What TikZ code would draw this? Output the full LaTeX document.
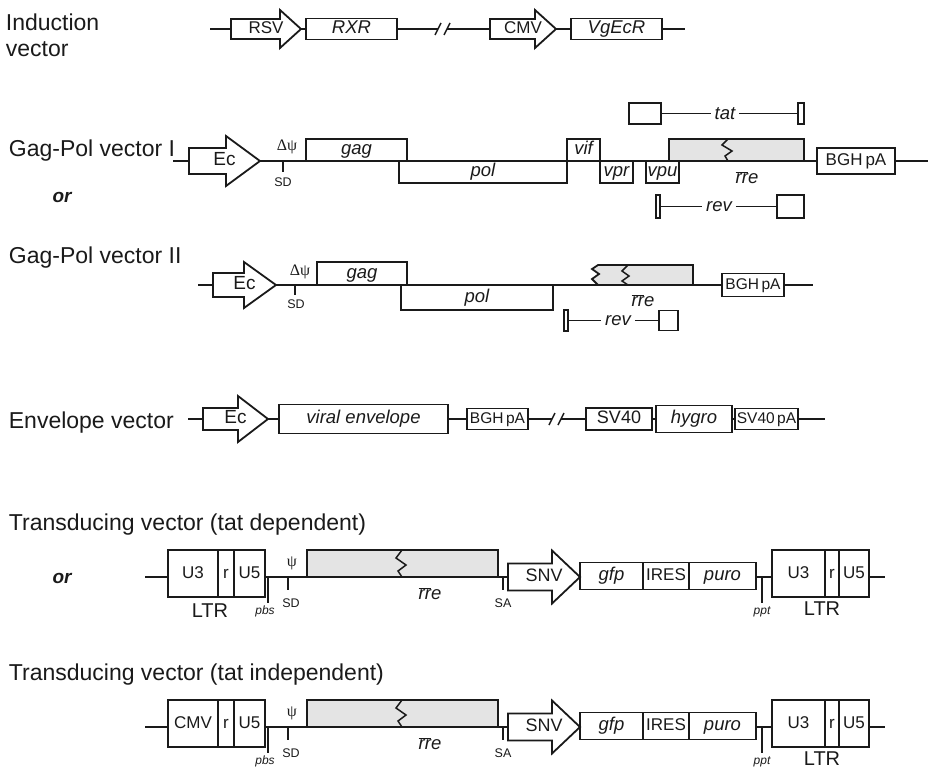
\documentclass[tikz,border=0pt]{standalone}
\usepackage{fontspec}
\setmainfont{Liberation Sans}
\newfontfamily\greekfont{Liberation Serif}
\usetikzlibrary{calc,positioning}
\definecolor{ink}{HTML}{1A1A1A}
\definecolor{shade}{HTML}{E4E4E4}

\begin{document}
\begin{tikzpicture}[x=1pt,y=-1pt,line width=1.8pt,color=ink,
    heading/.style={inner sep=0pt,anchor=base west,align=left,font=\fontsize{23}{26}\selectfont},
    elem/.style={draw,inner sep=0pt,outer sep=0pt,text height=12.5pt,text depth=3.5pt,font=\fontsize{17}{19}\selectfont},
    cds/.style={elem,font=\fontsize{18.5}{20}\selectfont\itshape},
    rrebox/.style={elem,fill=shade,anchor=south west},
    prom/.style={inner sep=0pt,outer sep=0pt,text height=12.5pt,text depth=3.5pt,font=\fontsize{18}{20}\selectfont},
    siglbl/.style={inner sep=0pt,font=\fontsize{12.5}{14}\selectfont},
    sigit/.style={inner sep=0pt,font=\fontsize{12}{14}\selectfont\itshape},
    orf/.style={inner sep=3pt,font=\fontsize{18.5}{20}\selectfont\itshape},
    greek/.style={inner sep=0pt,font=\greekfont\fontsize{16}{18}\selectfont},
    ltrlbl/.style={inner sep=0pt,font=\fontsize{20}{22}\selectfont},
    orword/.style={inner sep=0pt,font=\fontsize{19}{21}\selectfont\bfseries\itshape},
    small/.style={font=\fontsize{15.5}{17}\selectfont},
    stub/.style={line width=1.5pt},
    zig/.style={line width=1.5pt},
  ]
  \useasboundingbox (0,0) rectangle (936,773);

  \node[heading,anchor=north west] (tind) at (5,13) {Induction\\vector};
  \coordinate (s1) at (210,29); \coordinate (e1) at (685,29);
  \node[prom,minimum width=70,minimum height=20,font=\fontsize{17}{19}\selectfont] (rsv) at (266,29) {RSV};
  \node[cds,minimum width=91,minimum height=21] (rxr) at (351.5,29) {RXR};
  \coordinate (b1a) at (438,29); \coordinate (b1b) at (447,29);
  \node[prom,minimum width=66,minimum height=20,font=\fontsize{17}{19}\selectfont] (cmv) at (523,29) {CMV};
  \node[cds,minimum width=91,minimum height=21] (vgecr) at (616.5,29) {VgEcR};

  \node[heading] (tgp1) at (8,156) {Gag-Pol vector I};
  \node[orword] (or1) at (62,197) {or};
  \coordinate (s2) at (173,161); \coordinate (e2) at (928,161);
  \node[prom,minimum width=71,minimum height=26,font=\fontsize{19}{21}\selectfont] (ec1) at (224.5,161) {Ec};
  \node[greek] (dpsi1) at (287,147) {Δψ};
  \coordinate (sd1) at (283,161);
  \node[siglbl] (sdl1) at (283,182) {SD};
  \node[cds,anchor=south west,minimum width=101,minimum height=22] (gag1) at (306,161) {gag};
  \node[cds,anchor=north west,minimum width=168,minimum height=22] (pol1) at (399,161) {pol};
  \node[cds,anchor=south west,minimum width=33,minimum height=22] (vif1) at (567,161) {vif};
  \node[cds,anchor=north west,minimum width=33,minimum height=22] (vpr1) at (600,161) {vpr};
  \node[cds,anchor=north west,minimum width=33,minimum height=22] (vpu1) at (646,161) {vpu};
  \node[rrebox,minimum width=135,minimum height=22] (rre1) at (669,161) {};
  \draw[zig] (728,139) -- ++(-6,6) -- ++(10,6) -- ++(-7,5) -- (728,161);
  \node[orf] (rrel1) at (747,178) {$\overline{\hbox{\itshape rr}}$e};
  \node[elem,minimum width=32,minimum height=21] (tatx1) at (645,113.5) {};
  \node[orf] (tat) at (725,113.5) {tat};
  \node[elem,minimum width=6,minimum height=21] (tatx2) at (801,113.5) {};
  \node[elem,minimum width=4,minimum height=23] (revx1) at (658,206.5) {};
  \node[orf] (rev1) at (719,206.5) {rev};
  \node[elem,minimum width=27,minimum height=23] (revx2) at (790.5,206.5) {};
  \node[elem,minimum width=78,minimum height=26] (bgh1) at (856,161) {BGH\kern3pt pA};

  \node[heading] (tgp2) at (8,263) {Gag-Pol vector II};
  \coordinate (s3) at (198,285); \coordinate (e3) at (813,285);
  \node[prom,minimum width=63,minimum height=24,font=\fontsize{19}{21}\selectfont] (ec2) at (244.5,285) {Ec};
  \node[greek] (dpsi2) at (300,272) {Δψ};
  \coordinate (sd2) at (295,285);
  \node[siglbl] (sdl2) at (296,304) {SD};
  \node[cds,anchor=south west,minimum width=90,minimum height=23] (gag2) at (317,285) {gag};
  \node[cds,anchor=north west,minimum width=152,minimum height=25] (pol2) at (401,285) {pol};
  \draw[fill=shade] (598,285) -- ++(-6,-6) -- ++(7,-5) -- ++(-7,-5) -- (598,265) -- (693,265) -- (693,285);
  \draw[zig] (628,265) -- ++(-6,6) -- ++(7,5) -- ++(-7,5) -- (628,285);
  \node[orf] (rrel2) at (643,301) {$\overline{\hbox{\itshape rr}}$e};
  \node[elem,minimum width=4,minimum height=21] (revx3) at (566,320.5) {};
  \node[orf] (rev2) at (618,320.5) {rev};
  \node[elem,minimum width=19,minimum height=20] (revx4) at (668.5,320.5) {};
  \node[elem,small,minimum width=62,minimum height=23] (bgh2) at (753,285) {BGH\kern2.5pt pA};

  \node[heading] (tenv) at (8,428) {Envelope vector};
  \coordinate (s4) at (188,419); \coordinate (e4) at (825,419);
  \node[prom,minimum width=65,minimum height=22,font=\fontsize{19}{21}\selectfont] (ec3) at (235.5,419) {Ec};
  \node[cds,minimum width=169,minimum height=29] (env) at (363.5,419) {viral envelope};
  \node[elem,small,minimum width=61,minimum height=21] (bgh3) at (497.5,419) {BGH\kern2.5pt pA};
  \coordinate (b4a) at (552,419); \coordinate (b4b) at (561,419);
  \node[elem,minimum width=66,minimum height=22,font=\fontsize{18}{20}\selectfont] (sv40) at (619,419) {SV40};
  \node[cds,minimum width=76,minimum height=27] (hygro) at (694,419) {hygro};
  \node[elem,small,minimum width=63,minimum height=21] (sv40pa) at (766.5,419) {SV40\kern2.5pt pA};

  \node[heading] (ttd1) at (8,530) {Transducing vector (tat dependent)};
  \node[orword] (or2) at (62,578) {or};
  \coordinate (s5) at (145,577); \coordinate (e5) at (885,577);
  \node[elem,anchor=west,minimum width=50,minimum height=47] (u3a) at (168,573.5) {U3};
  \node[elem,minimum width=16,minimum height=47,right=0pt of u3a] (ra) {r};
  \node[elem,minimum width=31,minimum height=47,right=0pt of ra] (u5a) {U5};
  \node[ltrlbl] (ltra) at (210,611) {LTR};
  \coordinate (pbs5) at (268,577);
  \node[sigit] (pbsl5) at (265,611) {pbs};
  \node[greek] (psi5) at (292,563) {ψ};
  \coordinate (sd5) at (288,577);
  \node[siglbl] (sdl5) at (291,603) {SD};
  \node[rrebox,minimum width=191,minimum height=27] (rre5) at (307,577) {};
  \draw[zig] (402,550) -- ++(-6,8) -- ++(10,7) -- ++(-8,6) -- (402,577);
  \node[orf] (rrel5) at (430,594) {$\overline{\hbox{\itshape rr}}$e};
  \coordinate (sa5) at (503,577);
  \node[siglbl] (sal5) at (503,603) {SA};
  \node[prom,minimum width=72,minimum height=27] (snv1) at (544,577) {SNV};
  \node[cds,anchor=west,minimum width=63,minimum height=27] (gfp1) at (580,576) {gfp};
  \node[elem,minimum width=46,minimum height=27,right=0pt of gfp1] (ires1) {IRES};
  \node[cds,minimum width=67,minimum height=27,right=0pt of ires1] (puro1) {puro};
  \coordinate (ppt5) at (762,577);
  \node[sigit] (pptl5) at (762,612) {ppt};
  \node[elem,anchor=west,minimum width=53,minimum height=47] (u3b) at (772,573.5) {U3};
  \node[elem,minimum width=14,minimum height=47,right=0pt of u3b] (rb) {r};
  \node[elem,minimum width=30,minimum height=47,right=0pt of rb] (u5b) {U5};
  \node[ltrlbl] (ltrb) at (822,609) {LTR};

  \node[heading] (ttd2) at (8,680) {Transducing vector (tat independent)};
  \coordinate (s6) at (145,727); \coordinate (e6) at (885,727);
  \node[elem,anchor=west,minimum width=50,minimum height=47] (cmv2) at (168,723.5) {CMV};
  \node[elem,minimum width=16,minimum height=47,right=0pt of cmv2] (rc) {r};
  \node[elem,minimum width=31,minimum height=47,right=0pt of rc] (u5c) {U5};
  \coordinate (pbs6) at (268,727);
  \node[sigit] (pbsl6) at (265,761) {pbs};
  \node[greek] (psi6) at (292,713) {ψ};
  \coordinate (sd6) at (288,727);
  \node[siglbl] (sdl6) at (291,753) {SD};
  \node[rrebox,minimum width=191,minimum height=27] (rre6) at (307,727) {};
  \draw[zig] (402,700) -- ++(-6,8) -- ++(10,7) -- ++(-8,6) -- (402,727);
  \node[orf] (rrel6) at (430,744) {$\overline{\hbox{\itshape rr}}$e};
  \coordinate (sa6) at (503,727);
  \node[siglbl] (sal6) at (503,753) {SA};
  \node[prom,minimum width=72,minimum height=27] (snv2) at (544,727) {SNV};
  \node[cds,anchor=west,minimum width=63,minimum height=27] (gfp2) at (580,726) {gfp};
  \node[elem,minimum width=46,minimum height=27,right=0pt of gfp2] (ires2) {IRES};
  \node[cds,minimum width=67,minimum height=27,right=0pt of ires2] (puro2) {puro};
  \coordinate (ppt6) at (762,727);
  \node[sigit] (pptl6) at (762,762) {ppt};
  \node[elem,anchor=west,minimum width=53,minimum height=47] (u3d) at (772,723.5) {U3};
  \node[elem,minimum width=14,minimum height=47,right=0pt of u3d] (rd) {r};
  \node[elem,minimum width=30,minimum height=47,right=0pt of rd] (u5d) {U5};
  \node[ltrlbl] (ltrd) at (822,759) {LTR};

  \foreach \n/\h/\e in {rsv/21/9,cmv/21/9,ec1/34/12,ec2/32/11,ec3/30/12,snv1/28/13,snv2/28/13}
    {\draw (\n.north west) -- ([xshift=-\h pt]\n.north east) -- ++(0,-\e) -- (\n.east) -- ([xshift=-\h pt,yshift=-\e pt]\n.south east) -- ([xshift=-\h pt]\n.south east) -- (\n.south west) -- cycle;}
  \foreach \u/\v in {s1/rsv.west,rsv.east/rxr.west,rxr.east/b1a,b1b/cmv.west,cmv.east/vgecr.west,vgecr.east/e1,
      s2/ec1.west,ec1.east/bgh1.west,bgh1.east/e2,tatx1/tat,tat/tatx2,revx1/rev1,rev1/revx2,
      s3/ec2.west,ec2.east/bgh2.west,bgh2.east/e3,revx3/rev2,rev2/revx4,
      s4/ec3.west,ec3.east/env.west,env.east/bgh3.west,bgh3.east/b4a,b4b/sv40.west,sv40.east/hygro.west,hygro.east/sv40pa.west,sv40pa.east/e4,
      s5/u3a.west|-s5,u5a.east|-s5/snv1.west,snv1.east/gfp1.west|-s5,puro1.east|-s5/u3b.west|-s5,u5b.east|-s5/e5,
      s6/cmv2.west|-s6,u5c.east|-s6/snv2.west,snv2.east/gfp2.west|-s6,puro2.east|-s6/u3d.west|-s6,u5d.east|-s6/e6}
    {\draw (\u) -- (\v);}
  \foreach \c in {b1a,b1b,b4a,b4b}
    {\draw[stub] ($(\c)+(-3,6)$) -- ($(\c)+(3,-6)$);}
  \foreach \c/\l in {sd1/11,sd2/10,pbs5/26,sd5/13,sa5/13,ppt5/26,pbs6/26,sd6/13,sa6/13,ppt6/26}
    {\draw[stub] (\c) -- ++(0,\l);}
\end{tikzpicture}
\end{document}
